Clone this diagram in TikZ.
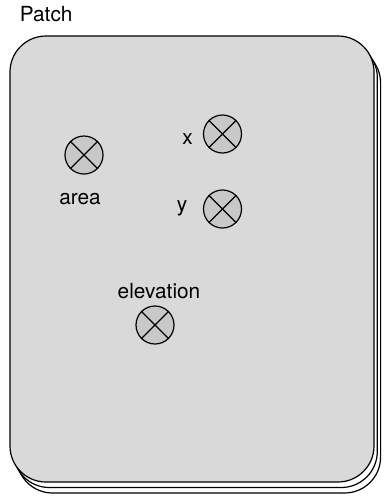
\documentclass[tikz,border=0pt]{standalone}
\usepackage{fontspec}
\setmainfont{TeX Gyre Heros}
\definecolor{cardgray}{HTML}{D9D9D9}
\definecolor{attrgray}{HTML}{C8C8C8}
\begin{document}
\begin{tikzpicture}[x=0.5pt, y=-0.5pt, font=\fontsize{10.4}{12}\selectfont]
        \tikzset{
            card/.style={draw, line width=0.6pt, rounded corners=18pt},
            attr/.style={circle, draw, line width=0.6pt, fill=attrgray, minimum size=19pt, inner sep=0pt},
            lbl/.style={anchor=base, inner sep=0pt}
        }
        \useasboundingbox (0,0) rectangle (384,499);

        % stacked cards, back to front
        \foreach \d/\c in {2/white, 1/white, 0/cardgray} {
            \draw[card, fill=\c] (10+3.3*\d, 36+5.5*\d) rectangle (374+3.3*\d, 482+5.5*\d);
        }
        \node[anchor=base west, inner sep=0pt] (lPatch) at (19.5,21) {Patch};

        \node[attr] (nArea) at (84,155) {};
        \node[attr] (nX) at (222.5,134) {};
        \node[attr] (nY) at (222.5,209) {};
        \node[attr] (nElev) at (155,325) {};
        \foreach \n in {nArea, nX, nY, nElev} {
            \draw[line width=0.6pt] (\n.north west) -- (\n.south east) (\n.north east) -- (\n.south west);
        }

        \node[lbl] (lArea) at (80,204) {area};
        \node[lbl] (lX) at (187.5,144) {x};
        \node[lbl] (lY) at (182,211) {y};
        \node[lbl] (lElev) at (159,298) {elevation};
    \end{tikzpicture}
\end{document}
